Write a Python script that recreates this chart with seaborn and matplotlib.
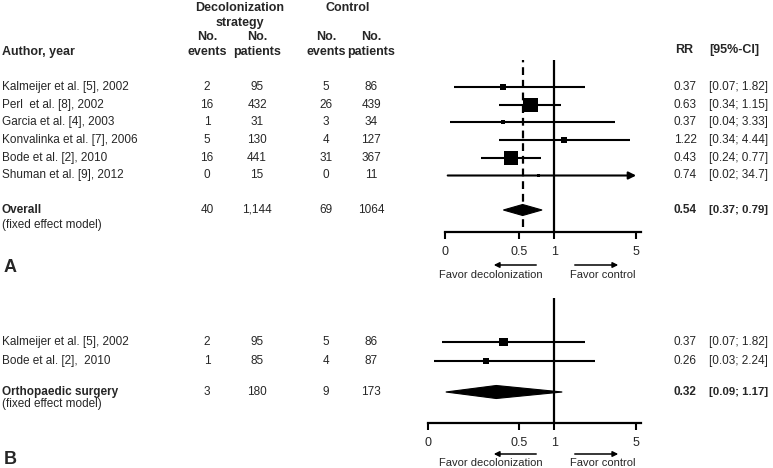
import numpy as np
import pandas as pd
import matplotlib
matplotlib.use("Agg")
import matplotlib.pyplot as plt
import matplotlib.transforms as mtransforms
from matplotlib.patches import Polygon
import seaborn as sns

# ---------------- data ----------------
studies_a = ["Kalmeijer et al. [5], 2002", "Perl  et al. [8], 2002", "Garcia et al. [4], 2003",
             "Konvalinka et al. [7], 2006", "Bode et al. [2], 2010", "Shuman et al. [9], 2012"]
events_dec_a = ["2", "16", "1", "5", "16", "0"]
patients_dec_a = ["95", "432", "31", "130", "441", "15"]
events_ctl_a = ["5", "26", "3", "4", "31", "0"]
patients_ctl_a = ["86", "439", "34", "127", "367", "11"]
rr_a = [0.37, 0.63, 0.37, 1.22, 0.43, 0.74]
lo_a = [0.07, 0.34, 0.04, 0.34, 0.24, 0.02]
hi_a = [1.82, 1.15, 3.33, 4.44, 0.77, 34.7]
weight_a = [7.4, 40.0, 3.3, 7.4, 40.0, 1.8]
pooled_name_a = ["Overall", "(fixed effect model)"]
pooled_counts_a = ["40", "1,144", "69", "1064"]
pooled_rr_a = [0.54, 0.37, 0.79]

studies_b = ["Kalmeijer et al. [5], 2002", "Bode et al. [2],  2010"]
events_dec_b = ["2", "1"]
patients_dec_b = ["95", "85"]
events_ctl_b = ["5", "4"]
patients_ctl_b = ["86", "87"]
rr_b = [0.37, 0.26]
lo_b = [0.07, 0.03]
hi_b = [1.82, 2.24]
weight_b = [68.0, 32.0]
pooled_name_b = ["Orthopaedic surgery", "(fixed effect model)"]
pooled_counts_b = ["3", "180", "9", "173"]
pooled_rr_b = [0.32, 0.09, 1.17]

tick_values = [0, 0.5, 1, 5]
tick_labels = ["0", "0.5", "1", "5"]

# ---------------- style ----------------
sns.set_theme(style="white")
plt.rcParams['font.family'] = ['Liberation Sans', 'DejaVu Sans']
plt.rcParams['font.size'] = 8.5

W, H = 773, 468
fig = plt.figure(figsize=(W / 100, H / 100), dpi=100)
fig.patch.set_facecolor("white")


def rect(left, top, right, bottom):
    return [left / W, 1 - bottom / H, (right - left) / W, (bottom - top) / H]


def fmt(v):
    return f"{v:.2f}" if v < 10 else f"{v:.1f}"


def ftext(xpx, ypx, s, **kw):
    fig.text(xpx / W, 1 - ypx / H, s, va="center", **kw)


COLS = [207, 257, 326, 371]
XMAX_SHOW = 5.0
FS = 8.5


def panel(ax_rect, linthresh, linscale, row1_px, pitch, pooled_px, fixed_px, top_px, axis_px,
          studies, ed, pd_, ec, pc, rr, lo, hi, weight, max_size,
          pooled_name, pooled_counts, pooled_rr, dashed, diamond_half_px, letter, letter_px,
          favor_px):
    ax = fig.add_axes(ax_rect)
    ax.set_xscale("symlog", linthresh=linthresh, linscale=linscale)
    ax.set_xlim(0, 5.5)
    to_y = lambda p: 1 + (p - row1_px) / pitch
    ax.set_ylim(to_y(axis_px), to_y(top_px))
    ys = list(range(1, len(rr) + 1))
    y_pool = to_y(pooled_px)
    y_fixed = to_y(fixed_px)

    # reference lines
    ax.axvline(1, color="black", lw=1.6, zorder=1)
    if dashed:
        ax.axvline(pooled_rr[0], ymin=0.03, color="black", lw=1.6, ls=(0, (3.5, 2.2)), zorder=1)

    # confidence intervals
    for y, l, h in zip(ys, lo, hi):
        if h > XMAX_SHOW:
            ax.annotate("", xy=(XMAX_SHOW, y), xytext=(l, y),
                        arrowprops=dict(arrowstyle="-|>", lw=1.5, color="black",
                                        mutation_scale=11, shrinkA=0, shrinkB=0))
        else:
            ax.hlines(y, l, h, color="black", lw=1.5, zorder=2)

    df = pd.DataFrame({"rr": rr, "y": ys, "w": weight})
    sns.scatterplot(data=df, x="rr", y="y", size="w", sizes=(0, max_size),
                    size_norm=(0, max(weight)), marker="s", color="black",
                    linewidth=0, legend=False, ax=ax, zorder=3)

    # diamond
    est, dlo, dhi = pooled_rr
    hh = diamond_half_px / pitch
    ax.add_patch(Polygon([(dlo, y_pool), (est, y_pool - hh), (dhi, y_pool), (est, y_pool + hh)],
                         closed=True, facecolor="black", edgecolor="black", lw=0.8, zorder=3))

    # axes cosmetics
    for s in ["top", "left", "right"]:
        ax.spines[s].set_visible(False)
    ax.spines["bottom"].set_linewidth(1.6)
    ax.spines["bottom"].set_color("black")
    ax.set_xticks(tick_values)
    ax.set_xticklabels(tick_labels)
    ax.xaxis.set_minor_locator(matplotlib.ticker.NullLocator())
    ax.tick_params(axis="x", direction="out", length=5, width=1.5, pad=5,
                   labelsize=9, color="black", bottom=True)
    ax.set_yticks([])
    ax.set_xlabel("")
    ax.set_ylabel("")
    ax.patch.set_alpha(0)

    # table text
    tr = mtransforms.blended_transform_factory(fig.transFigure, ax.transData)
    for y, name, a, b, c, d, r, l, h in zip(ys, studies, ed, pd_, ec, pc, rr, lo, hi):
        fig.text(2 / W, y, name, transform=tr, ha="left", va="center", fontsize=FS)
        for xc, s in zip(COLS, [a, b, c, d]):
            fig.text(xc / W, y, s, transform=tr, ha="center", va="center", fontsize=FS)
        fig.text(685 / W, y, fmt(r), transform=tr, ha="center", va="center", fontsize=FS)
        fig.text(709 / W, y, f"[{fmt(l)}; {fmt(h)}]", transform=tr, ha="left", va="center",
                 fontsize=FS)
    fig.text(2 / W, y_pool, pooled_name[0], transform=tr, ha="left", va="center",
             fontweight="bold", fontsize=FS)
    fig.text(2 / W, y_fixed, pooled_name[1], transform=tr, ha="left", va="center", fontsize=FS)
    for xc, s in zip(COLS, pooled_counts):
        fig.text(xc / W, y_pool, s, transform=tr, ha="center", va="center", fontsize=FS)
    fig.text(685 / W, y_pool, fmt(est), transform=tr, ha="center", va="center",
             fontweight="bold", fontsize=FS)
    fig.text(709 / W, y_pool, f"[{fmt(dlo)}; {fmt(dhi)}]", transform=tr, ha="left",
             va="center", fontweight="bold", fontsize=8.2)

    # favor arrows
    ay, ty = favor_px
    fig.add_artist(matplotlib.patches.FancyArrowPatch(
        (539 / W, 1 - ay / H), (491 / W, 1 - ay / H), transform=fig.transFigure,
        arrowstyle="-|>", mutation_scale=8, lw=1.1, color="black"))
    fig.add_artist(matplotlib.patches.FancyArrowPatch(
        (572 / W, 1 - ay / H), (621 / W, 1 - ay / H), transform=fig.transFigure,
        arrowstyle="-|>", mutation_scale=8, lw=1.1, color="black"))
    ftext(491, ty, "Favor decolonization", ha="center", fontsize=8)
    ftext(603, ty, "Favor control", ha="center", fontsize=8)

    ftext(4, letter_px, letter, ha="left", fontsize=13, fontweight="bold")
    return ax


# headers
ftext(240, 8, "Decolonization", ha="center", fontweight="bold", fontsize=9)
ftext(240, 23, "strategy", ha="center", fontweight="bold", fontsize=9)
ftext(348, 8, "Control", ha="center", fontweight="bold", fontsize=9)
for xc, sub in zip(COLS, ["events", "patients", "events", "patients"]):
    ftext(xc, 37, "No.", ha="center", fontweight="bold", fontsize=9)
    ftext(xc, 52, sub, ha="center", fontweight="bold", fontsize=9)
ftext(2, 52, "Author, year", ha="left", fontweight="bold", fontsize=9)
ftext(684, 50, "RR", ha="center", fontweight="bold", fontsize=9)
ftext(709, 50, "[95%-CI]", ha="left", fontweight="bold", fontsize=9)

panel(rect(445, 60, 641, 232), 0.2, 0.207, 87, 17.7, 210, 225, 60, 232,
      studies_a, events_dec_a, patients_dec_a, events_ctl_a, patients_ctl_a,
      rr_a, lo_a, hi_a, weight_a, 102,
      pooled_name_a, pooled_counts_a, pooled_rr_a, True, 5.5, "A", 268, (265, 275))

panel(rect(428, 298, 641, 423), 0.15, 0.228, 342, 19.0, 392, 404, 298, 423,
      studies_b, events_dec_b, patients_dec_b, events_ctl_b, patients_ctl_b,
      rr_b, lo_b, hi_b, weight_b, 36,
      pooled_name_b, pooled_counts_b, pooled_rr_b, False, 6.5, "B", 459, (454, 463))

fig.savefig("out.png", dpi=100, facecolor="white")
